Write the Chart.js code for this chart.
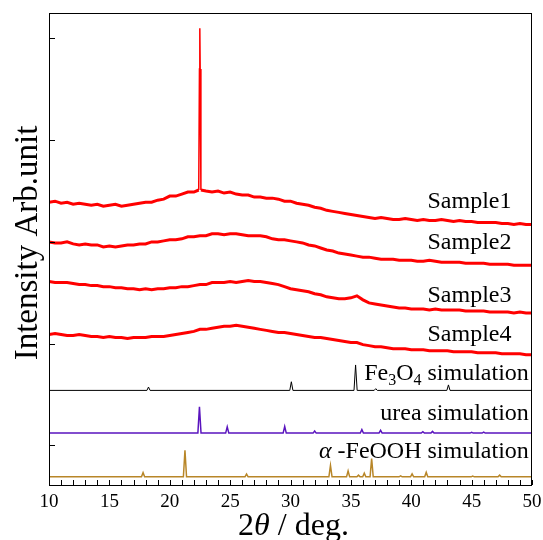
<!DOCTYPE html>
<html>
<head>
<meta charset="utf-8">
<script src="https://cdn.jsdelivr.net/npm/chart.js@4"></script>
<style>
  html, body { margin: 0; padding: 0; background: #fff; }
  #wrap { width: 543px; height: 540px; }
</style>
</head>
<body>
<div id="wrap"><canvas id="myChart" width="543" height="540"></canvas></div>
<script>
// measured patterns, 10-50 deg in 0.5 deg steps (values already offset for stacking)
var sample1 = [2.39, 2.40, 2.38, 2.39, 2.37, 2.38, 2.37, 2.36, 2.37, 2.35, 2.36, 2.37, 2.35, 2.36, 2.37, 2.38,
    2.39, 2.39, 2.41, 2.42, 2.45, 2.45, 2.47, 2.49, 2.49, 2.50, 2.50, 2.49, 2.50, 2.48, 2.49, 2.47,
    2.46, 2.46, 2.44, 2.44, 2.43, 2.43, 2.42, 2.40, 2.40, 2.38, 2.37, 2.36, 2.34, 2.33, 2.31, 2.30,
    2.29, 2.28, 2.27, 2.26, 2.25, 2.24, 2.23, 2.24, 2.23, 2.22, 2.22, 2.23, 2.22, 2.21, 2.22, 2.21,
    2.21, 2.22, 2.21, 2.20, 2.21, 2.20, 2.20, 2.19, 2.19, 2.19, 2.19, 2.18, 2.18, 2.17, 2.18, 2.17, 2.17];
var sample1PeakAngles = [22.40, 22.46, 22.49, 22.52, 22.58];
var sample1PeakValues = [2.51, 3.70, 4.10, 3.70, 2.51];

var sample2 = [2.00, 1.99, 1.99, 2.00, 1.98, 1.97, 1.98, 1.97, 1.97, 1.95, 1.96, 1.95, 1.96, 1.97, 1.97, 1.98,
    1.98, 2.00, 2.00, 2.01, 2.02, 2.02, 2.03, 2.05, 2.05, 2.06, 2.06, 2.08, 2.08, 2.07, 2.08, 2.08,
    2.07, 2.06, 2.06, 2.06, 2.05, 2.03, 2.02, 2.02, 2.01, 2.00, 1.99, 1.97, 1.96, 1.94, 1.92, 1.91,
    1.89, 1.88, 1.87, 1.86, 1.85, 1.85, 1.84, 1.83, 1.83, 1.83, 1.82, 1.82, 1.82, 1.81, 1.81, 1.82,
    1.81, 1.80, 1.80, 1.80, 1.80, 1.79, 1.79, 1.79, 1.79, 1.78, 1.78, 1.78, 1.78, 1.77, 1.77, 1.77, 1.77];

var sample3 = [1.61, 1.60, 1.60, 1.60, 1.59, 1.58, 1.58, 1.57, 1.57, 1.56, 1.56, 1.55, 1.55, 1.54, 1.54, 1.53,
    1.54, 1.53, 1.54, 1.54, 1.55, 1.55, 1.56, 1.56, 1.57, 1.58, 1.58, 1.60, 1.60, 1.60, 1.61, 1.60,
    1.61, 1.62, 1.61, 1.61, 1.60, 1.59, 1.58, 1.56, 1.54, 1.53, 1.52, 1.51, 1.49, 1.48, 1.46, 1.45,
    1.44, 1.44, 1.45, 1.47, 1.43, 1.40, 1.39, 1.38, 1.37, 1.36, 1.35, 1.35, 1.34, 1.34, 1.34, 1.33,
    1.34, 1.33, 1.33, 1.33, 1.33, 1.32, 1.32, 1.32, 1.32, 1.31, 1.31, 1.31, 1.31, 1.30, 1.31, 1.30, 1.30];

var sample4 = [1.09, 1.10, 1.09, 1.08, 1.08, 1.09, 1.08, 1.07, 1.07, 1.06, 1.07, 1.06, 1.06, 1.05, 1.06, 1.06,
    1.06, 1.07, 1.07, 1.07, 1.08, 1.09, 1.10, 1.11, 1.12, 1.14, 1.14, 1.15, 1.16, 1.17, 1.17, 1.18,
    1.17, 1.16, 1.15, 1.14, 1.13, 1.12, 1.11, 1.11, 1.10, 1.09, 1.08, 1.07, 1.06, 1.06, 1.05, 1.04,
    1.03, 1.02, 1.01, 1.01, 0.99, 0.98, 0.97, 0.97, 0.96, 0.95, 0.95, 0.95, 0.94, 0.94, 0.94, 0.93,
    0.93, 0.93, 0.93, 0.92, 0.92, 0.92, 0.92, 0.91, 0.91, 0.91, 0.91, 0.90, 0.90, 0.90, 0.90, 0.89, 0.89];

// simulated reference patterns: peak positions and heights, plus stacking offset
var fe3o4Peaks = [18.24, 30.07, 35.39, 37.06, 43.08];
var fe3o4Heights = [0.033, 0.085, 0.25, 0.017, 0.054];
var fe3o4Offset = 0.54;

var ureaPeaks = [22.46, 24.76, 29.52, 32.0, 35.91, 37.46, 40.96, 41.76, 45.0, 46.0];
var ureaHeights = [0.26, 0.061, 0.065, 0.02, 0.034, 0.028, 0.014, 0.017, 0.007, 0.01];
var ureaOffset = 0.12;

var feoohPeaks = [17.79, 21.26, 26.36, 33.31, 34.77, 35.63, 36.11, 36.72, 39.12, 40.07, 41.24, 45.09, 47.32];
var feoohHeights = [0.041, 0.26, 0.028, 0.112, 0.058, 0.017, 0.037, 0.18, 0.01, 0.03, 0.044, 0.007, 0.017];
var feoohOffset = -0.31;

var sampleNames = ['Sample1', 'Sample2', 'Sample3', 'Sample4'];

var angles = [];
for (var i = 0; i <= 80; i++) angles.push(10 + i * 0.5);

function toPoints(values) {
    return values.map(function (v, i) { return {x: angles[i], y: v}; });
}

function withPeak(values, pa, pv) {
    var pts = toPoints(values).filter(function (p) {
        return p.x < pa[0] || p.x > pa[pa.length - 1];
    });
    pa.forEach(function (a, i) { pts.push({x: a, y: pv[i]}); });
    return pts.sort(function (a, b) { return a.x - b.x; });
}

function sticks(peaks, heights, base) {
    var hw = 0.13;
    var pts = [{x: 10, y: base}];
    peaks.forEach(function (p, i) {
        pts.push({x: p - hw, y: base}, {x: p, y: base + heights[i]}, {x: p + hw, y: base});
    });
    pts.push({x: 50, y: base});
    return pts;
}

var serif = '"Liberation Serif", "Times New Roman", serif';

function drawPieces(ctx, pieces, right, baseline) {
    var w = 0;
    pieces.forEach(function (p) { ctx.font = p.font; w += ctx.measureText(p.t).width; });
    var x = right - w;
    pieces.forEach(function (p) {
        ctx.font = p.font;
        ctx.fillText(p.t, x, baseline + (p.dy || 0));
        x += ctx.measureText(p.t).width;
    });
}

var decor = {
    id: 'decor',
    afterDatasetsDraw: function (chart) {
        var ctx = chart.ctx, a = chart.chartArea, xs = chart.scales.x, ys = chart.scales.y;
        ctx.save();
        ctx.strokeStyle = '#000';
        ctx.lineWidth = 1;
        ctx.strokeRect(Math.round(a.left) + 0.5, Math.round(a.top) + 0.5,
            Math.round(a.right - a.left) - 1, Math.round(a.bottom - a.top));
        ctx.beginPath();
        xs.ticks.forEach(function (t) {
            var px = Math.round(xs.getPixelForValue(t.value)) + 0.5;
            ctx.moveTo(px, a.bottom);
            ctx.lineTo(px, a.bottom - 5);
        });
        ys.ticks.forEach(function (t) {
            if (!Number.isInteger(t.value)) return;
            var py = Math.round(ys.getPixelForValue(t.value)) + 0.5;
            ctx.moveTo(a.left, py);
            ctx.lineTo(a.left + 6, py);
        });
        ctx.stroke();

        ctx.fillStyle = '#000';
        ctx.textBaseline = 'alphabetic';
        ctx.textAlign = 'left';
        var f = '24px ' + serif, sub = '16px ' + serif;
        var sampleLevels = [2.335, 1.926, 1.408, 1.025];
        sampleNames.forEach(function (n, i) {
            drawPieces(ctx, [{t: n, font: f}], xs.getPixelForValue(48.3), ys.getPixelForValue(sampleLevels[i]));
        });
        var simRight = xs.getPixelForValue(49.74);
        drawPieces(ctx, [{t: 'Fe', font: f}, {t: '3', font: sub, dy: 5}, {t: 'O', font: f},
            {t: '4', font: sub, dy: 5}, {t: ' simulation', font: f}], simRight, ys.getPixelForValue(0.639));
        drawPieces(ctx, [{t: 'urea simulation', font: f}], simRight, ys.getPixelForValue(0.249));
        drawPieces(ctx, [{t: '\u03b1', font: 'italic 24px ' + serif}, {t: ' -FeOOH simulation', font: f}],
            simRight, ys.getPixelForValue(-0.122));

        // axis titles
        var tf = '32px ' + serif;
        var title = [{t: '2', font: tf}, {t: '\u03b8', font: 'italic ' + tf}, {t: ' / deg.', font: tf}];
        var tw = 0;
        title.forEach(function (p) { ctx.font = p.font; tw += ctx.measureText(p.t).width; });
        drawPieces(ctx, title, (a.left + a.right) / 2 + tw / 2 + 3, 535);

        ctx.translate(37, 243);
        ctx.rotate(-Math.PI / 2);
        ctx.font = '33px ' + serif;
        ctx.textAlign = 'center';
        ctx.fillText('Intensity Arb.unit', 0, 0);
        ctx.restore();
    }
};

var ctx = document.getElementById('myChart').getContext('2d');
var chart = new Chart(ctx, {
    type: 'line',
    data: {
        datasets: [
            {label: sampleNames[0], data: withPeak(sample1, sample1PeakAngles, sample1PeakValues), borderColor: 'rgb(255, 0, 0)', borderWidth: 3,
                segment: {borderWidth: function (c) { return c.p0.parsed.x >= 22.39 && c.p1.parsed.x <= 22.59 ? 1.5 : 3; }}},
            {label: sampleNames[1], data: toPoints(sample2), borderColor: 'rgb(255, 0, 0)', borderWidth: 3},
            {label: sampleNames[2], data: toPoints(sample3), borderColor: 'rgb(255, 0, 0)', borderWidth: 3},
            {label: sampleNames[3], data: toPoints(sample4), borderColor: 'rgb(255, 0, 0)', borderWidth: 3},
            {label: 'Fe3O4 simulation', data: sticks(fe3o4Peaks, fe3o4Heights, fe3o4Offset), borderColor: '#000', borderWidth: 1},
            {label: 'urea simulation', data: sticks(ureaPeaks, ureaHeights, ureaOffset), borderColor: 'rgb(90, 20, 190)', borderWidth: 1.5},
            {label: 'a-FeOOH simulation', data: sticks(feoohPeaks, feoohHeights, feoohOffset), borderColor: 'rgb(184, 134, 40)', borderWidth: 1.5}
        ]
    },
    options: {
        responsive: false,
        animation: false,
        layout: {padding: {top: 13, right: 11, left: 0, bottom: 0}},
        elements: {point: {radius: 0}, line: {tension: 0}},
        plugins: {legend: {display: false}, tooltip: {enabled: false}},
        scales: {
            x: {
                type: 'linear', min: 10, max: 50,
                grid: {display: false}, border: {display: false},
                afterFit: function (s) { s.height = 55; },
                ticks: {
                    stepSize: 1, autoSkip: false, maxRotation: 0, padding: -2,
                    color: '#000', font: {family: serif, size: 19},
                    callback: function (v) { return v % 5 === 0 ? v : ''; }
                }
            },
            y: {
                min: -0.39, max: 4.25,
                grid: {display: false}, border: {display: false},
                afterFit: function (s) { s.width = 49; },
                ticks: {stepSize: 1, display: false}
            }
        }
    },
    plugins: [decor]
});
</script>
</body>
</html>
